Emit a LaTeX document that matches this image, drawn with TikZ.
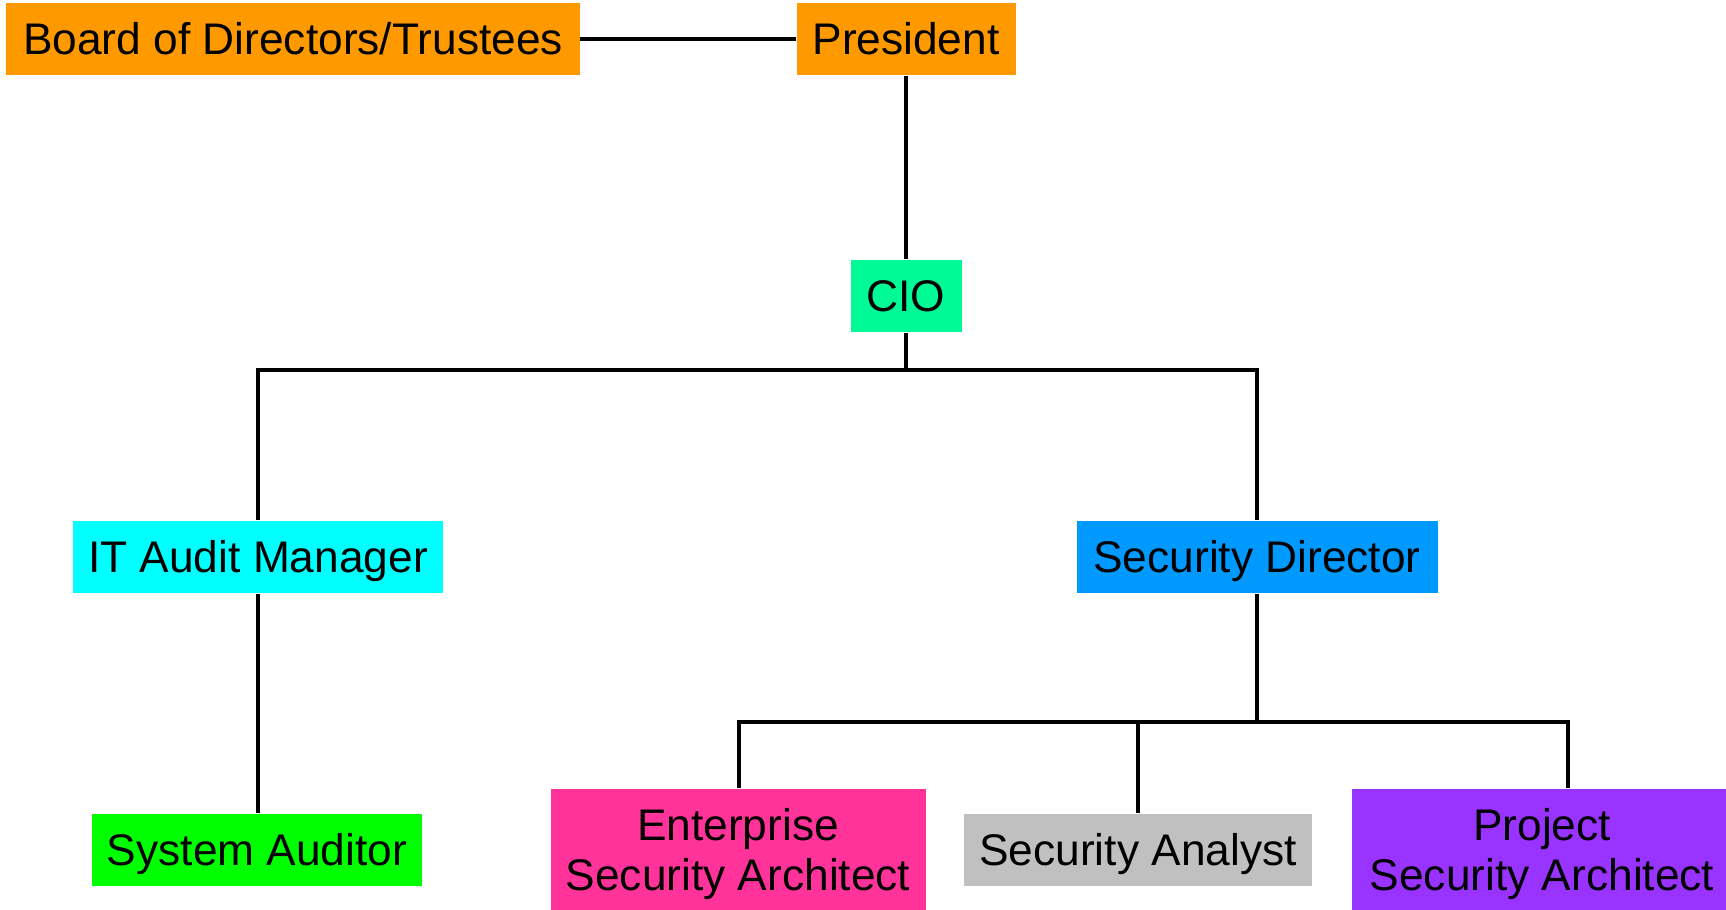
\documentclass[tikz,border=0pt]{standalone}
\usepackage{fontspec}
\setmainfont{Liberation Sans}
\definecolor{boardorange}{HTML}{FF9900}
\definecolor{ciogreen}{HTML}{00FA96}
\definecolor{auditcyan}{HTML}{00FFFF}
\definecolor{secblue}{HTML}{0099FF}
\definecolor{sysgreen}{HTML}{00FF00}
\definecolor{entpink}{HTML}{FF3399}
\definecolor{analystgray}{HTML}{C0C0C0}
\definecolor{projpurple}{HTML}{9933FF}
\tikzset{
    role/.style={inner sep=0pt, minimum height=7.2mm, text height=3.1mm, text depth=0pt,
        font=\fontsize{12.6}{14.2}\selectfont},
    tworole/.style={inner sep=0pt, minimum height=12.2mm, align=center,
        text height=9mm, font=\fontsize{12.6}{14.2}\selectfont},
    link/.style={line width=1.3pt}
}
\begin{document}
\begin{tikzpicture}
        \useasboundingbox (0,0) rectangle (17.26,9.10);
        %% top row
        \node[role,fill=boardorange,minimum width=57.3mm] (board) at (2.93,8.71) {Board of Directors/Trustees};
        \node[role,fill=boardorange,minimum width=21.9mm] (pres) at (9.06,8.71) {President};
        \node[role,fill=ciogreen,minimum width=11.1mm] (cio) at (9.06,6.14) {CIO};
        %% middle row
        \node[role,fill=auditcyan,minimum width=37mm] (itam) at (2.58,3.53) {IT Audit Manager};
        \node[role,fill=secblue,minimum width=36.1mm] (secdir) at (12.57,3.53) {Security Director};
        %% bottom row
        \node[role,fill=sysgreen,minimum width=33mm] (sysaud) at (2.57,0.60) {System Auditor};
        \node[tworole,fill=entpink,minimum width=37.5mm] (entarch) at (7.38,0.60) {Enterprise\\Security Architect};
        \node[role,fill=analystgray,minimum width=34.8mm] (secan) at (11.38,0.60) {Security Analyst};
        \node[tworole,fill=projpurple,minimum width=38mm] (projarch) at (15.42,0.60) {Project\\Security Architect};
        %% buses
        \coordinate (busA) at (0,5.40);
        \coordinate (busB) at (7.39,1.88);
        \coordinate (busBend) at (15.68,1.88);
        %% links
        \draw[link] (board.east) -- (pres.west);
        \draw[link] (pres.south) -- (cio.north);
        \draw[link] (cio.south) -- (cio.south |- busA);
        \draw[link] (itam.north) |- (busA -| secdir.north) -- (secdir.north);
        \draw[link] (itam.south) -- (itam.south |- sysaud.north);
        \draw[link] (secdir.south) -- (secdir.south |- busB);
        \draw[link] (entarch.north -| busB) -- (busB) -- (busBend) -- (busBend |- projarch.north);
        \draw[link] (secan.north) -- (secan.north |- busB);
    \end{tikzpicture}
\end{document}
